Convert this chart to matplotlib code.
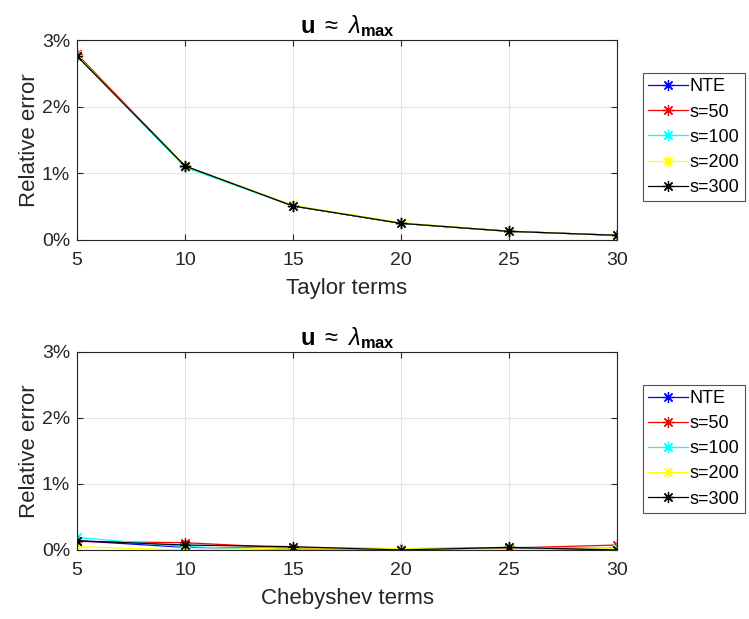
import matplotlib
matplotlib.use("Agg")
import matplotlib.pyplot as plt
from matplotlib.ticker import FuncFormatter

plt.rcParams["font.family"] = ["Liberation Sans", "DejaVu Sans"]
plt.rcParams["mathtext.fontset"] = "custom"
plt.rcParams["mathtext.rm"] = "Liberation Sans"
plt.rcParams["mathtext.it"] = "Liberation Sans:italic"
plt.rcParams["mathtext.bf"] = "Liberation Sans:bold"

terms = [5, 10, 15, 20, 25, 30]
labels = ["NTE", "s=50", "s=100", "s=200", "s=300"]
colors = ["blue", "red", "cyan", "yellow", "black"]

# relative error in percent, Taylor
taylor = {
    "NTE":   [2.77, 1.11, 0.51, 0.25, 0.13, 0.07],
    "s=50":  [2.79, 1.11, 0.51, 0.25, 0.13, 0.07],
    "s=100": [2.76, 1.09, 0.51, 0.25, 0.13, 0.07],
    "s=200": [2.77, 1.11, 0.52, 0.26, 0.13, 0.07],
    "s=300": [2.76, 1.11, 0.51, 0.25, 0.13, 0.07],
}
# relative error in percent, Chebyshev
cheb = {
    "NTE":   [0.14, 0.04, 0.02, 0.01, 0.03, 0.00],
    "s=50":  [0.13, 0.11, 0.03, 0.02, 0.03, 0.075],
    "s=100": [0.19, 0.05, 0.00, 0.01, 0.04, 0.03],
    "s=200": [0.05, 0.00, 0.03, 0.02, 0.01, 0.02],
    "s=300": [0.14, 0.075, 0.05, 0.00, 0.04, 0.00],
}

fig = plt.figure(figsize=(7.49, 6.19), dpi=100)
ax1 = fig.add_axes([0.1028, 0.6123, 0.721, 0.323])
ax2 = fig.add_axes([0.1028, 0.1115, 0.721, 0.32])

title = r"$\mathbf{u}\ \approx\ \lambda_{\mathbf{max}}$"
axcol = "#262626"
star = (8, 2, 0)  # matlab-style asterisk

for ax, data, xlabel in [(ax1, taylor, "Taylor terms"), (ax2, cheb, "Chebyshev terms")]:
    for lab, col in zip(labels, colors):
        ax.plot(terms, data[lab], "-", marker=star, color=col, label=lab,
                linewidth=0.9, markersize=8, markeredgewidth=0.9)
    ax.set_xlim(5, 30)
    ax.set_ylim(0, 3)
    ax.set_xticks(terms)
    ax.set_yticks([0, 1, 2, 3])
    ax.yaxis.set_major_formatter(FuncFormatter(lambda v, p: f"{v:.0f}%"))
    ax.grid(True, color="#e3e3e3", linewidth=0.8)
    ax.set_axisbelow(True)
    ax.tick_params(direction="in", top=True, right=True, labelsize=14,
                   colors=axcol, length=4)
    ax.tick_params(axis="x", pad=9)
    ax.tick_params(axis="y", pad=5)
    for s in ax.spines.values():
        s.set_color(axcol)
        s.set_linewidth(0.8)
    ax.set_xlabel(xlabel, fontsize=16, color=axcol, labelpad=6)
    ax.set_ylabel("Relative error", fontsize=16, color=axcol, labelpad=1)
    ax.set_title(title, fontsize=17, pad=5)
    leg = ax.legend(loc="upper left", bbox_to_anchor=(1.048, 0.835),
                    borderaxespad=0, fontsize=13, fancybox=False,
                    handlelength=2.2, handletextpad=0.1, labelspacing=0.45,
                    borderpad=0.3)
    leg.get_frame().set_edgecolor(axcol)
    leg.get_frame().set_linewidth(0.8)

fig.savefig("out.png", dpi=100)
